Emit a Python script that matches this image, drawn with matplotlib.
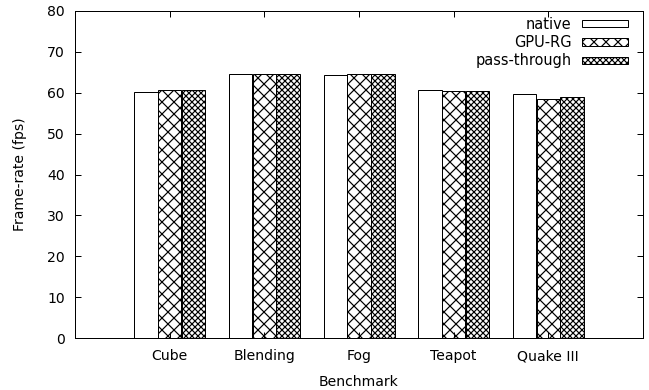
import matplotlib
matplotlib.use("Agg")
import matplotlib.pyplot as plt
import numpy as np

categories = ["Cube", "Blending", "Fog", "Teapot", "Quake III"]
native = [60.2, 64.5, 64.4, 60.7, 59.6]
gpu_rg = [60.6, 64.7, 64.6, 60.4, 58.5]
pass_through = [60.7, 64.7, 64.5, 60.4, 58.9]
series_labels = ["native", "GPU-RG", "pass-through"]
yticks = [0, 10, 20, 30, 40, 50, 60, 70, 80]

DPI = 72
plt.rcParams['font.family'] = ['DejaVu Sans']
plt.rcParams['hatch.linewidth'] = 1.2
fig = plt.figure(figsize=(649 / DPI, 390 / DPI), dpi=DPI)
ax = fig.add_axes([75 / 649, 1 - 338 / 390, (643 - 75) / 649, (338 - 11) / 390])

x = np.arange(len(categories))
w = 0.25
hatches = [None, 'xx', 'xxxx']
for i, (vals, lab, h) in enumerate(zip([native, gpu_rg, pass_through], series_labels, hatches)):
    ax.bar(x + (i - 1) * w, vals, width=w, facecolor='white', edgecolor='black',
           linewidth=1.0, hatch=h, label=lab)

ax.set_xlim(-1, 5)
ax.set_ylim(0, 80)
ax.set_yticks(yticks)
ax.set_xticks(x)
ax.set_xticklabels(categories)
ax.tick_params(direction='in', length=6, width=1, top=True, right=True, labelsize=14)
ax.tick_params(axis='y', pad=10)
ax.tick_params(axis='x', pad=11)
for s in ax.spines.values():
    s.set_linewidth(1.0)
    s.set_color('black')

ax.set_xlabel("Benchmark", fontsize=14, labelpad=12)
ax.set_ylabel("Frame-rate (fps)", fontsize=14, labelpad=20)

leg = ax.legend(loc='upper right', bbox_to_anchor=((628 - 75) / 568, (338 - 17) / 327),
                frameon=False, markerfirst=False, fontsize=14.5, borderpad=0,
                borderaxespad=0, handlelength=3.2, handleheight=0.4,
                handletextpad=0.7, labelspacing=0.22)
for t in leg.get_texts():
    t.set_ha('right')

fig.savefig("out.png", dpi=DPI)
